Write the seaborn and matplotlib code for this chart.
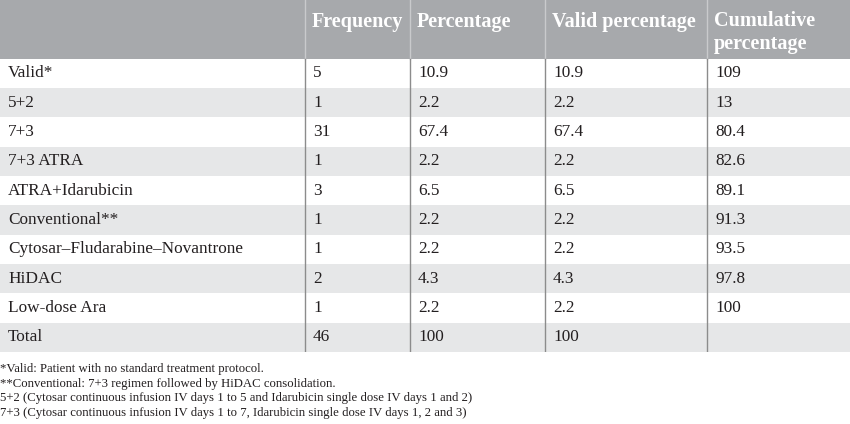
import numpy as np
import pandas as pd
import seaborn as sns
import matplotlib.pyplot as plt
from matplotlib.colors import ListedColormap

# table data
treatments = ['Valid*', '5+2', '7+3', '7+3 ATRA', 'ATRA+Idarubicin', 'Conventional**',
              'Cytosar\u2013Fludarabine\u2013Novantrone', 'HiDAC', 'Low-dose Ara', 'Total']
frequency = ['5', '1', '31', '1', '3', '1', '1', '2', '1', '46']
percentage = ['10.9', '2.2', '67.4', '2.2', '6.5', '2.2', '2.2', '4.3', '2.2', '100']
valid_pct = ['10.9', '2.2', '67.4', '2.2', '6.5', '2.2', '2.2', '4.3', '2.2', '100']
cumulative_pct = ['109', '13', '80.4', '82.6', '89.1', '91.3', '93.5', '97.8', '100', '']
headers = ['', 'Frequency', 'Percentage', 'Valid percentage', 'Cumulative\npercentage']
footnotes = ['*Valid: Patient with no standard treatment protocol.',
             '**Conventional: 7+3 regimen followed by HiDAC consolidation.',
             '5+2 (Cytosar continuous infusion IV days 1 to 5 and Idarubicin single dose IV days 1 and 2)',
             '7+3 (Cytosar continuous infusion IV days 1 to 7, Idarubicin single dose IV days 1, 2 and 3)']

df = pd.DataFrame({'': treatments, 'Frequency': frequency, 'Percentage': percentage,
                   'Valid percentage': valid_pct, 'Cumulative\npercentage': cumulative_pct})

W, H = 850, 424
col_px = [0, 305, 410, 545, 707, 850]
col_x = [p / W for p in col_px]
table_bottom = 352

# row shading: header takes 2 rows (value 2), body alternates white (0) / grey (1)
shade = np.array([2, 2] + [i % 2 for i in range(len(df))]).reshape(-1, 1)
cmap = ListedColormap(['#ffffff', '#e6e7e8', '#a7a9ac'])
nrows = len(shade)
row_px = table_bottom / nrows

fig = plt.figure(figsize=(W / 100, H / 100), dpi=100)
ax = fig.add_axes([0, 1 - table_bottom / H, 1, table_bottom / H])
sns.heatmap(shade, cmap=cmap, vmin=-0.5, vmax=2.5, cbar=False, ax=ax,
            xticklabels=False, yticklabels=False)

serif = ['Liberation Serif', 'DejaVu Serif']
text_col = '#231f20'

# vertical column lines
for x in col_x[1:-1]:
    ax.plot([x, x], [0, 2], color='#c9cacc', lw=1)
    ax.plot([x, x], [2, nrows], color='#8c8c8c', lw=1)

# header text (top aligned, two-line header drawn line by line)
for j, h in enumerate(headers):
    for k, line in enumerate(h.split('\n')):
        ax.text(col_x[j] + 7 / W, (21.5 + 23 * k) / row_px, line, ha='left', va='center',
                color='white', fontsize=14.5, fontweight='bold', family=serif)

# body text
for i, row in df.iterrows():
    for j, val in enumerate(row):
        ax.text(col_x[j] + 8 / W, 2.5 + i, val, ha='left', va='center', color=text_col,
                fontsize=12.4, family=serif)

ax.axis('off')

for k, note in enumerate(footnotes):
    fig.text(0.5 / W, 1 - (369 + 14.7 * k) / H, note, ha='left', va='center',
             color=text_col, fontsize=9.2, family=serif)

fig.savefig('out.png', dpi=100)
